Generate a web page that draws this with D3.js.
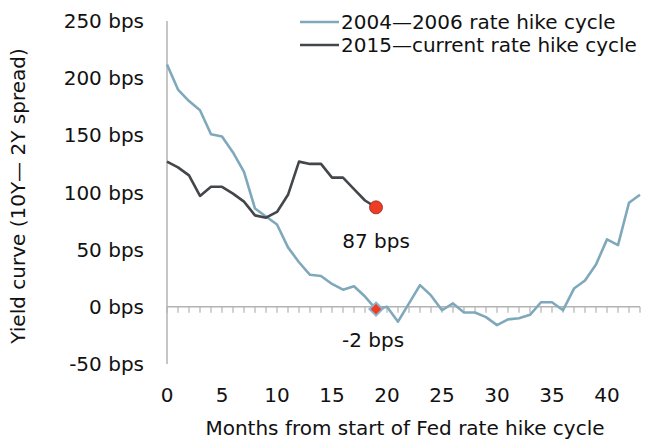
<!DOCTYPE html>
<html><head><meta charset="utf-8">
<script src="https://cdn.jsdelivr.net/npm/d3@7/dist/d3.min.js"></script>
<style>body{margin:0;background:#fff}svg{display:block}text{font-family:"DejaVu Sans",sans-serif;fill:#111}</style>
</head><body><svg id="c" width="650" height="443"></svg>
<script>
const months = d3.range(0, 44);
const cycle2004 = [212,190,180,172,151,149,135,118,86,79,72,52,39,28,27,20,15,18,9,-2,0,-13,3,19,10,-3,3,-5,-5,-9,-16,-11,-10,-7,4,4,-3,16,23,37,59,54,91,98];
const cycle2015 = [127,122,115,97,105,105,99,92,80,78,83,98,127,125,125,113,113,103,93,87];
const yTicks = [250,200,150,100,50,0,-50];
const xTicks = [0,5,10,15,20,25,30,35,40];
const seriesNames = ["2004\u20142006 rate hike cycle","2015\u2014current rate hike cycle"];
const lastIdx = 19;

const svg = d3.select("#c");
const x = d3.scaleLinear().domain([0,43]).range([167,640]);
const y = d3.scaleLinear().domain([-50,250]).range([364,21]);
const fs = 20;

// axes lines
svg.append("line").attr("x1",167).attr("x2",167).attr("y1",y(250)).attr("y2",y(-50)).attr("stroke","#b3b3b3").attr("stroke-width",1.5);
svg.append("line").attr("x1",167).attr("x2",640).attr("y1",y(0)).attr("y2",y(0)).attr("stroke","#b3b3b3").attr("stroke-width",1.5);
svg.append("g").selectAll("line").data(months).join("line")
  .attr("x1",d=>x(d)).attr("x2",d=>x(d)).attr("y1",y(0)).attr("y2",y(0)+6)
  .attr("stroke","#b3b3b3").attr("stroke-width",1.2);

// y tick labels
svg.append("g").selectAll("text").data(yTicks).join("text")
  .attr("x",144).attr("y",d=>y(d)).attr("dy","0.35em").attr("text-anchor","end")
  .style("font-size",fs+"px").text(d=>d+" bps");
// x tick labels
svg.append("g").selectAll("text").data(xTicks).join("text")
  .attr("x",d=>x(d)).attr("y",395).attr("dy","0.35em").attr("text-anchor","middle")
  .style("font-size",fs+"px").text(d=>d);

svg.append("text").attr("x",405).attr("y",428).attr("dy","0.35em").attr("text-anchor","middle").style("font-size",fs+"px")
  .text("Months from start of Fed rate hike cycle");
svg.append("text").attr("transform","translate(18,196) rotate(-90)").attr("dy","0.35em").attr("text-anchor","middle").style("font-size",fs+"px")
  .text("Yield curve (10Y\u2014 2Y spread)");

const line = d3.line().x((d,i)=>x(months[i])).y(d=>y(d));
svg.append("path").datum(cycle2004).attr("d",line).attr("fill","none").attr("stroke","#7fa9bb").attr("stroke-width",2.6).attr("stroke-linejoin","round");
svg.append("path").datum(cycle2015).attr("d",line).attr("fill","none").attr("stroke","#43474b").attr("stroke-width",2.6).attr("stroke-linejoin","round");

// markers
svg.append("path").attr("d",d3.symbol(d3.symbolDiamond2,110)())
  .attr("transform",`translate(${x(lastIdx)},${y(cycle2004[lastIdx])})`)
  .attr("fill","#f03c24").attr("stroke","#8fb3c4").attr("stroke-width",2);
svg.append("circle").attr("cx",x(lastIdx)).attr("cy",y(cycle2015[lastIdx])).attr("r",6.5)
  .attr("fill","#f03c24").attr("stroke","#8a2a1e").attr("stroke-width",0.8);

svg.append("text").attr("x",x(lastIdx)).attr("y",241).attr("dy","0.35em").attr("text-anchor","middle").style("font-size",fs+"px").text(cycle2015[lastIdx]+" bps");
svg.append("text").attr("x",x(lastIdx)-3).attr("y",340).attr("dy","0.35em").attr("text-anchor","middle").style("font-size",fs+"px").text(cycle2004[lastIdx]+" bps");

// legend
const lg = svg.append("g");
[["#7fa9bb",22],["#43474b",45]].forEach((c,i)=>{
  lg.append("line").attr("x1",300).attr("x2",339).attr("y1",c[1]).attr("y2",c[1]).attr("stroke",c[0]).attr("stroke-width",2.6);
  lg.append("text").attr("x",341).attr("y",c[1]).attr("dy","0.35em").style("font-size",fs+"px").text(seriesNames[i]);
});
</script></body></html>
